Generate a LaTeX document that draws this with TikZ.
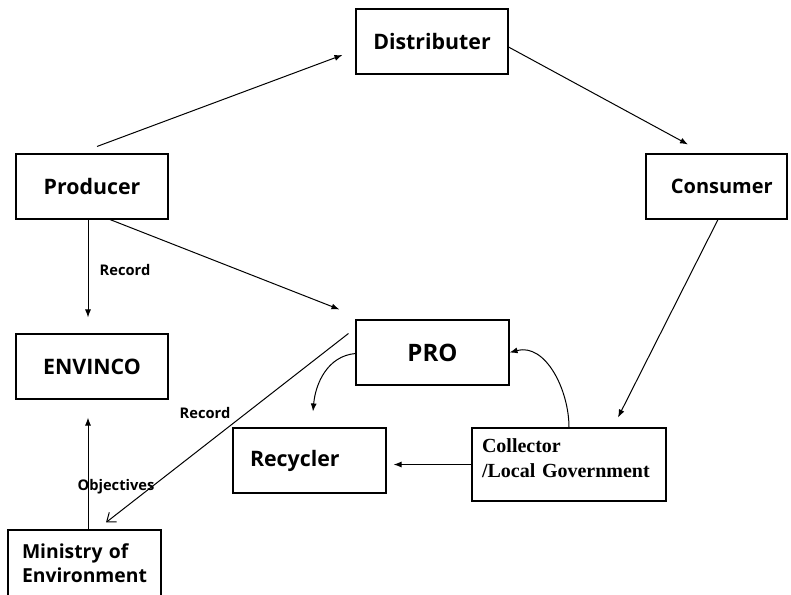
\documentclass[tikz,border=0pt]{standalone}
\usepackage{fontspec}
\setmainfont{Open Sans}
\newfontfamily\timesfont{Liberation Serif}
\usetikzlibrary{arrows.meta}
\tikzset{
  box/.style={draw, line width=0.8pt, inner sep=0pt, font=\bfseries\fontsize{16}{19}\selectfont},
  lbl/.style={inner sep=0.75pt, font=\bfseries\fontsize{11}{13}\selectfont},
  arr/.style={-{Latex[length=6pt,width=4.5pt]}, line width=0.75pt},
  openarr/.style={-{Straight Barb[length=6pt,width=9pt]}, line width=0.75pt},
}

\begin{document}
\begin{tikzpicture}[x=0.75pt,y=-0.75pt]
\clip (0,0) rectangle (791,594);

% Box Node
\node[box, minimum width=114pt, minimum height=48.75pt] (dist) at (432,41.5) {Distributer};
% Box Node
\node[box, minimum width=114pt, minimum height=48.75pt] (prod) at (92,186.5) {Producer};
% Box Node
\node[box, minimum width=105.75pt, minimum height=48.75pt, font=\bfseries\fontsize{15}{18}\selectfont] (cons) at (716.5,186.5) {\hspace*{8pt}Consumer};
% Box Node
\node[box, minimum width=114pt, minimum height=48.75pt] (env) at (92,366.5) {ENVINCO};
% Box Node
\node[box, minimum width=114.75pt, minimum height=48.75pt, font=\bfseries\fontsize{18}{21}\selectfont] (pro) at (432.5,352.5) {PRO};
% Box Node
\node[box, minimum height=48.75pt, text width=89.25pt, inner xsep=12.75pt, align=left] (rec) at (309.5,460.5) {Recycler};
% Box Node
\node[box, minimum height=54.75pt, text width=130.5pt, inner xsep=7.5pt, align=left, font=\timesfont\bfseries\fontsize{15}{18.5}\selectfont] (coll) at (569,464.5) {\raisebox{-0.5pt}[0pt][0pt]{\begin{tabular}{@{}l@{}}Collector\\/Local Government\end{tabular}}};
% Box Node
\node[box, minimum height=50.25pt, text width=93.75pt, inner xsep=10.5pt, align=left, font=\bfseries\fontsize{14.5}{18}\selectfont] (min) at (84.5,563.5) {Ministry of\\Environment};

% Text Node
\node[lbl] (recA) at (125,270) {Record};
% Text Node
\node[lbl] (recB) at (205,413) {Record};
% Text Node
\node[lbl] (obj) at (116,487) {Objectives};

% Connection
\draw[arr] ([shift={(5,-7)}]prod.north) -- ([shift={(-13,13.5)}]dist.west);
% Connection
\draw[arr] ([shift={(0,5.5)}]dist.east) -- ([shift={(-28.5,-9)}]cons.north);
% Connection
\draw[arr] ([shift={(1.5,0)}]cons.south) -- ([shift={(49,-10)}]coll.north);
% Connection
\draw[arr] (coll.north) to[out=90,in=15] (pro.east);
% Connection
\draw[arr] ([shift={(0,1)}]pro.west) to[out=185,in=85] ([shift={(3.5,-16)}]rec.north);
% Connection
\draw[arr, shorten >=5.25pt] (coll.west) -- (coll.west -| rec.east);
% Connection
\draw[arr] ([shift={(-4,0)}]prod.south) -- ([shift={(-4,-16)}]env.north);
% Connection
\draw[arr] ([shift={(18,0)}]prod.south) -- ([shift={(-16,-10)}]pro.north west);
% Connection
\draw[arr] ([shift={(3.5,0)}]min.north) -- ([shift={(-4,18)}]env.south);
% Connection
\draw[openarr] ([shift={(-7,14)}]pro.north west) -- ([shift={(21.5,-7)}]min.north);

\end{tikzpicture}
\end{document}
